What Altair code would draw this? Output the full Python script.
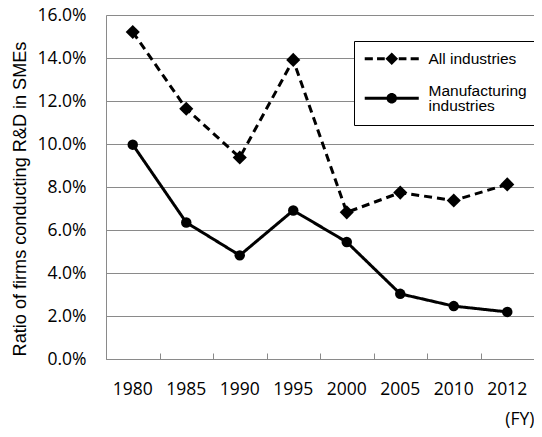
import altair as alt
import pandas as pd

years = ["1980", "1985", "1990", "1995", "2000", "2005", "2010", "2012"]
all_industries = [0.1521, 0.1164, 0.0937, 0.1391, 0.0682, 0.0774, 0.0737, 0.0812]
manufacturing = [0.0997, 0.0635, 0.0482, 0.0691, 0.0544, 0.0303, 0.0246, 0.0219]
series_names = ["All industries", "Manufacturing industries"]
y_ticks = [0.0, 0.02, 0.04, 0.06, 0.08, 0.10, 0.12, 0.14, 0.16]

df = pd.DataFrame({
    "year": years * 2,
    "value": all_industries + manufacturing,
    "series": [series_names[0]] * len(years) + [series_names[1]] * len(years),
})

GRID = "#8a8a8a"
# legend glyphs (unit = 7px): filled line segments with the series marker in the middle
h = 0.2
diamond_path = (
    f"M-3.86,-{h}L-2.7,-{h}L-2.7,{h}L-3.86,{h}Z"
    f"M-2.1,-{h}L-1.0,-{h}L-1.0,{h}L-2.1,{h}Z"
    f"M1.0,-{h}L2.1,-{h}L2.1,{h}L1.0,{h}Z"
    f"M2.7,-{h}L3.86,-{h}L3.86,{h}L2.7,{h}Z"
    "M0,-0.9L0.9,0L0,0.9L-0.9,0Z"
)
# second entry glyph sits between the two lines of its label
c = 1.07
circle_path = (
    f"M-3.86,{c - h}L3.86,{c - h}L3.86,{c + h}L-3.86,{c + h}Z"
    f"M0.75,{c}A0.75,0.75,0,1,1,-0.75,{c}A0.75,0.75,0,1,1,0.75,{c}Z"
)

x_scale = alt.Scale(domain=years, paddingInner=0, paddingOuter=0)
y_scale = alt.Scale(domain=[0, 0.16])

y_axis = alt.Axis(
    values=y_ticks, format=".1%", ticks=False, tickSize=0, labelPadding=20,
    labelFont="Open Sans", labelFontSize=17.5, labelColor="black",
    grid=True, gridColor=GRID, gridWidth=1, domainColor=GRID,
    title="Ratio of firms conducting R&D in SMEs", titleFont="Liberation Sans",
    titleFontSize=18.1, titleFontWeight="normal", titleColor="black",
    titleX=-81, titleY=183.5, titleBaseline="alphabetic", titleAngle=-90,
)

x_axis_main = alt.Axis(
    orient="bottom", ticks=False, tickSize=0, labelPadding=21, labelAngle=0,
    labelFont="Open Sans", labelFontSize=17.5, labelColor="black",
    grid=False, domainColor=GRID,
    title="(FY)", titleFont="Open Sans", titleFontSize=17.5,
    titleFontWeight="normal", titleColor="black",
    titleX=428, titleY=65, titleAlign="right", titleBaseline="alphabetic",
)

x_axis_ticks = alt.Axis(
    orient="bottom", offset=-6, labels=False, domain=False, ticks=True,
    tickSize=6, tickBand="extent", tickColor=GRID, grid=False, title=None,
)

legend = alt.Legend(
    title=None, orient="none", legendX=248, legendY=26,
    symbolSize=196, symbolStrokeWidth=0, symbolFillColor="black",
    symbolOffset=20, rowPadding=15,
    labelFont="Liberation Sans", labelFontSize=15.5, labelColor="black",
    labelOffset=29, labelLimit=300,
    labelExpr="datum.label == 'Manufacturing industries' ? ['Manufacturing', 'industries'] : datum.label",
    fillColor="white", strokeColor="black", padding=10,
)

lines = alt.Chart(df).mark_line(color="black", strokeWidth=3).encode(
    x=alt.X("year:N", scale=x_scale, axis=x_axis_main, sort=years),
    y=alt.Y("value:Q", scale=y_scale, axis=y_axis),
    strokeDash=alt.StrokeDash(
        "series:N",
        scale=alt.Scale(domain=series_names, range=[[8, 5], [1, 0]]),
        legend=None,
    ),
)

points = alt.Chart(df).mark_point(filled=True, color="black", opacity=1).encode(
    x=alt.X("year:N", scale=x_scale, axis=x_axis_ticks, sort=years),
    y=alt.Y("value:Q", scale=y_scale, axis=y_axis),
    shape=alt.Shape("series:N", scale=alt.Scale(domain=series_names, range=["diamond", "circle"]), legend=None),
    size=alt.Size("series:N", scale=alt.Scale(domain=series_names, range=[200, 110]), legend=None),
)

legend_layer = alt.Chart(df).transform_filter("false").mark_point(
    filled=True, color="black", opacity=1
).encode(
    x=alt.X("year:N", scale=x_scale, axis=None, sort=years),
    y=alt.Y("value:Q", scale=y_scale, axis=y_axis),
    shape=alt.Shape("series:N", scale=alt.Scale(domain=series_names, range=[diamond_path, circle_path]), legend=legend),
)

chart = alt.layer(lines, points, legend_layer).resolve_axis(x="independent").resolve_scale(
    shape="independent"
).properties(
    width=428, height=344,
    padding={"left": 98, "top": 7, "right": 0, "bottom": 70},
    autosize=alt.AutoSizeParams(type="none"),
).configure_view(stroke=None).configure(
    style={"guide-label": {"lineHeight": 15}}
)

chart.save("out.html", embed_options={"renderer": "svg", "actions": False})
